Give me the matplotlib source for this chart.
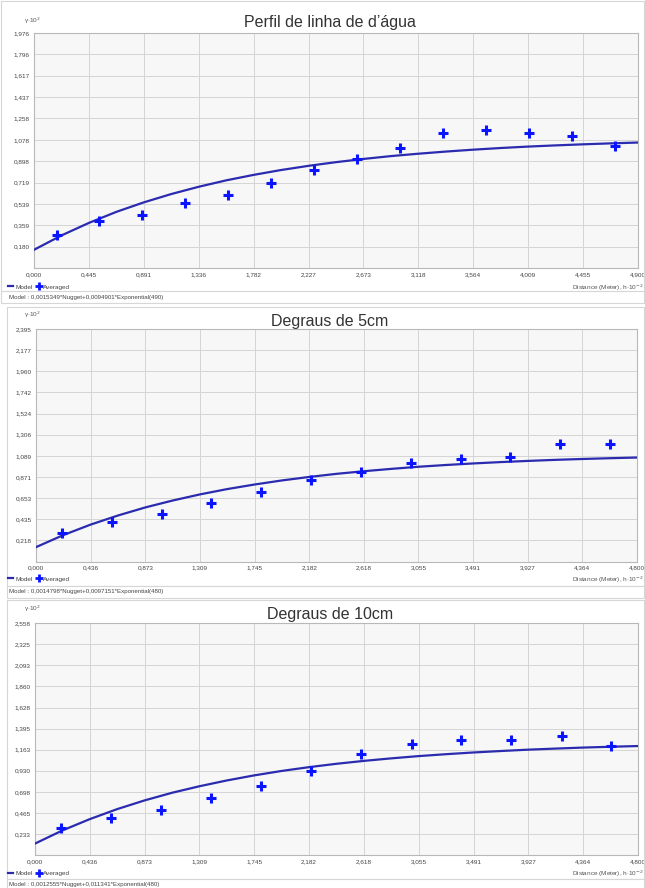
import matplotlib
matplotlib.use("Agg")
import matplotlib.pyplot as plt
from matplotlib.lines import Line2D
from matplotlib.patches import Rectangle

plt.rcParams['font.family'] = ['Liberation Sans', 'DejaVu Sans']

W, H = 645, 888

# ---------------- data ----------------
titles = ["Perfil de linha de d\u2019\u00e1gua", "Degraus de 5cm", "Degraus de 10cm"]

x1_ticks = ["0,000", "0,445", "0,891", "1,336", "1,782", "2,227", "2,673", "3,118", "3,564", "4,009", "4,455", "4,900"]
y1_ticks = ["0,180", "0,359", "0,539", "0,719", "0,898", "1,078", "1,258", "1,437", "1,617", "1,796", "1,976"]
x1_max, y1_max = 4.900, 1.976
p1_x = [0.187, 0.531, 0.880, 1.229, 1.577, 1.926, 2.270, 2.619, 2.970, 3.319, 3.668, 4.012, 4.363, 4.710]
p1_y = [0.281, 0.399, 0.447, 0.548, 0.615, 0.713, 0.823, 0.916, 1.006, 1.135, 1.158, 1.135, 1.113, 1.025]
m1_x = [0.000, 0.223, 0.445, 0.668, 0.891, 1.114, 1.336, 1.559, 1.782, 2.005, 2.227, 2.450,
        2.673, 2.896, 3.118, 3.341, 3.564, 3.787, 4.009, 4.232, 4.455, 4.678, 4.900]
m1_y = [0.153, 0.274, 0.379, 0.472, 0.552, 0.622, 0.683, 0.737, 0.783, 0.824, 0.859, 0.890,
        0.917, 0.941, 0.961, 0.979, 0.995, 1.009, 1.021, 1.031, 1.040, 1.048, 1.055]
model1 = "Model : 0,0015349*Nugget+0,0094901*Exponential(490)"

x2_ticks = ["0,000", "0,436", "0,873", "1,309", "1,745", "2,182", "2,618", "3,055", "3,491", "3,927", "4,364", "4,800"]
y2_ticks = ["0,218", "0,435", "0,653", "0,871", "1,089", "1,306", "1,524", "1,742", "1,960", "2,177", "2,395"]
x2_max, y2_max = 4.800, 2.395
p2_x = [0.207, 0.604, 1.003, 1.399, 1.798, 2.195, 2.596, 2.993, 3.394, 3.788, 4.188, 4.587]
p2_y = [0.291, 0.404, 0.490, 0.607, 0.714, 0.837, 0.923, 1.013, 1.060, 1.081, 1.215, 1.209]
m2_x = [0.000, 0.218, 0.436, 0.655, 0.873, 1.091, 1.309, 1.527, 1.745, 1.964, 2.182, 2.400,
        2.618, 2.836, 3.055, 3.273, 3.491, 3.709, 3.927, 4.145, 4.364, 4.582, 4.800]
m2_y = [0.148, 0.272, 0.380, 0.474, 0.557, 0.628, 0.691, 0.746, 0.793, 0.835, 0.871, 0.903,
        0.930, 0.954, 0.976, 0.994, 1.010, 1.024, 1.036, 1.047, 1.056, 1.064, 1.071]
model2 = "Model : 0,0014798*Nugget+0,0097151*Exponential(480)"

x3_ticks = ["0,000", "0,436", "0,873", "1,309", "1,745", "2,182", "2,618", "3,055", "3,491", "3,927", "4,364", "4,800"]
y3_ticks = ["0,233", "0,465", "0,698", "0,930", "1,163", "1,395", "1,628", "1,860", "2,093", "2,325", "2,558"]
x3_max, y3_max = 4.800, 2.558
p3_x = [0.206, 0.606, 1.003, 1.399, 1.802, 2.196, 2.598, 2.998, 3.394, 3.791, 4.193, 4.587]
p3_y = [0.295, 0.412, 0.497, 0.626, 0.765, 0.930, 1.111, 1.228, 1.266, 1.273, 1.310, 1.206]
m3_x = [0.000, 0.218, 0.436, 0.655, 0.873, 1.091, 1.309, 1.527, 1.745, 1.964, 2.182, 2.400,
        2.618, 2.836, 3.055, 3.273, 3.491, 3.709, 3.927, 4.145, 4.364, 4.582, 4.800]
m3_y = [0.126, 0.271, 0.396, 0.507, 0.603, 0.687, 0.759, 0.823, 0.879, 0.928, 0.970, 1.007,
        1.039, 1.067, 1.092, 1.113, 1.132, 1.148, 1.163, 1.175, 1.186, 1.195, 1.203]
model3 = "Model : 0,0012555*Nugget+0,011341*Exponential(480)"

legend_labels = ["Model", "Averaged"]
y_label = "\u03b3\u00b710$^{2}$"
x_label = "Distance (Meter), h\u00b710$^{-2}$"

# ---------------- layout (pixels) ----------------
panels = [
    dict(ax=(34, 33, 638, 268), title_y=22, ylab_y=21, leg_y=287, model_y=297,
         box=(1, 1, 644, 292), xt=x1_ticks, yt=y1_ticks, xmax=x1_max, ymax=y1_max,
         px=p1_x, py=p1_y, mx=m1_x, my=m1_y, model=model1, title=titles[0]),
    dict(ax=(36, 329, 637, 561.5), title_y=321, ylab_y=315, leg_y=579, model_y=591.5,
         box=(7, 307, 644, 586), xt=x2_ticks, yt=y2_ticks, xmax=x2_max, ymax=y2_max,
         px=p2_x, py=p2_y, mx=m2_x, my=m2_y, model=model2, title=titles[1]),
    dict(ax=(35, 623.3, 638, 855), title_y=615, ylab_y=609, leg_y=873, model_y=884.5,
         box=(7, 600, 644, 879), xt=x3_ticks, yt=y3_ticks, xmax=x3_max, ymax=y3_max,
         px=p3_x, py=p3_y, mx=m3_x, my=m3_y, model=model3, title=titles[2]),
]


def fx(x):
    return x / W


def fy(y):
    return 1 - y / H


fig = plt.figure(figsize=(W / 100, H / 100), dpi=100)
fig.patch.set_facecolor("white")

line_col = "#2b2bb0"
mark_col = "#0a14ff"
tick_fs = 4.6

for p in panels:
    l, t, r, b = p["ax"]
    bl, bt, br, bb = p["box"]
    fig.add_artist(Rectangle((fx(bl), fy(bb)), fx(br - bl), (bb - bt) / H, transform=fig.transFigure,
                             fill=False, edgecolor="#d6d6d6", linewidth=0.8))
    fig.add_artist(Rectangle((fx(bl), fy(p["model_y"] + 6)), fx(br - bl), 12 / H, transform=fig.transFigure,
                             facecolor="white", edgecolor="#d6d6d6", linewidth=0.8))

    ax = fig.add_axes([fx(l), fy(b), fx(r - l), (b - t) / H])
    ax.set_facecolor("#f7f7f7")
    n = len(p["xt"]) - 1
    xs = [p["xmax"] * i / n for i in range(n + 1)]
    ys = [p["ymax"] * (i + 1) / len(p["yt"]) for i in range(len(p["yt"]))]
    ax.set_xlim(0, p["xmax"])
    ax.set_ylim(0, p["ymax"])
    ax.set_xticks(xs)
    ax.set_xticklabels(p["xt"], fontsize=tick_fs, color="#444444")
    ax.set_yticks(ys)
    ax.set_yticklabels(p["yt"], fontsize=tick_fs, color="#444444")
    ax.tick_params(length=0, pad=3)
    ax.grid(True, color="#d4d4d4", linewidth=0.7)
    ax.set_axisbelow(True)
    for s in ax.spines.values():
        s.set_color("#b8b8b8")
        s.set_linewidth(0.8)

    ax.plot(p["mx"], p["my"], color=line_col, linewidth=1.6, zorder=3,
            solid_joinstyle="round")
    ax.plot(p["px"], p["py"], linestyle="none", marker="+", markersize=7.5,
            color=mark_col, markeredgewidth=2.2, zorder=4)

    fig.text(fx(330), fy(p["title_y"]), p["title"], ha="center", va="center",
             fontsize=11.5, color="#333333")
    fig.text(fx(24), fy(p["ylab_y"]), y_label, ha="left", va="center",
             fontsize=4.6, color="#555555")
    fig.text(fx(644), fy(p["leg_y"] + 1), x_label, ha="right", va="center",
             fontsize=4.6, color="#555555")

    handles = [Line2D([], [], color=line_col, linewidth=1.6),
               Line2D([], [], linestyle="none", marker="+", markersize=6, color=mark_col,
                      markeredgewidth=2)]
    fig.legend(handles, legend_labels, loc="center left",
               bbox_to_anchor=(fx(8), fy(p["leg_y"])), bbox_transform=fig.transFigure,
               ncol=2, frameon=False, fontsize=4.6, handlelength=0.8, handletextpad=0.3,
               columnspacing=0.6, borderaxespad=0, borderpad=0, labelcolor="#444444")

    fig.text(fx(9), fy(p["model_y"]), p["model"], ha="left", va="center",
             fontsize=4.4, color="#444444")

fig.savefig("out.png", dpi=100, facecolor="white")
